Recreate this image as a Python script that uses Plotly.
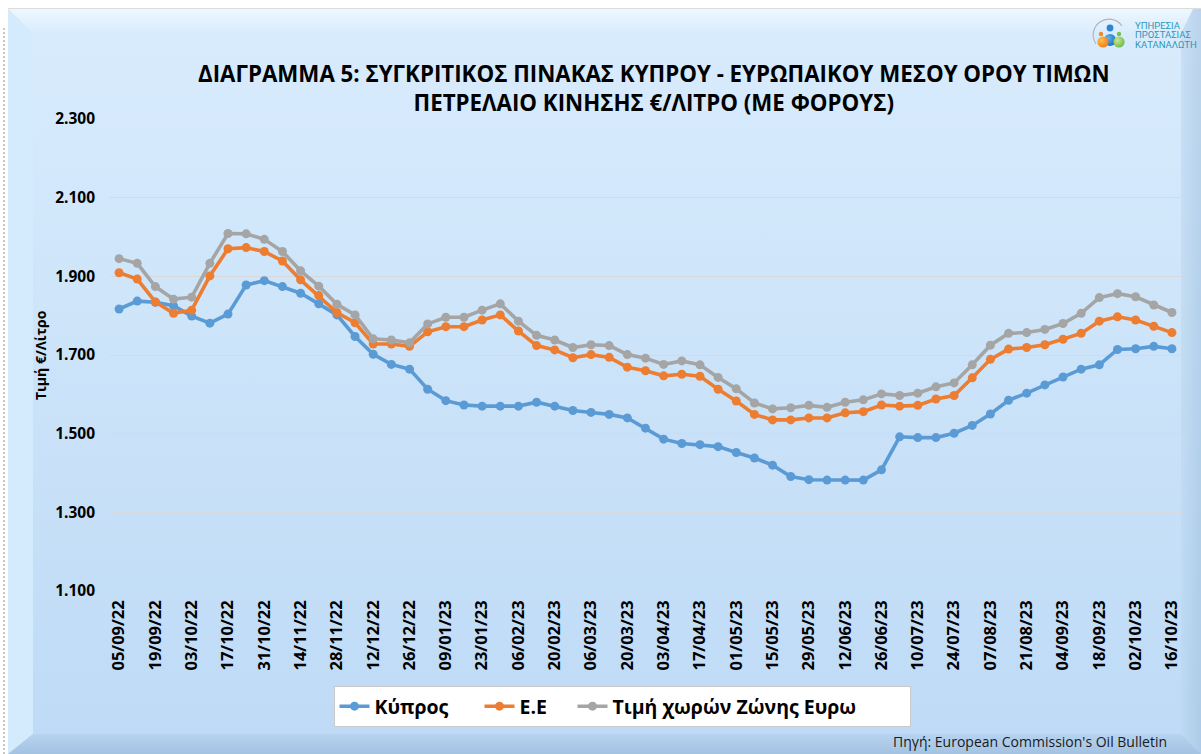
import base64
import plotly.graph_objects as go

# ---------------- data ----------------
dates = [
    "05/09/22", "12/09/22", "19/09/22", "26/09/22", "03/10/22", "10/10/22", "17/10/22", "24/10/22",
    "31/10/22", "07/11/22", "14/11/22", "21/11/22", "28/11/22", "05/12/22", "12/12/22", "19/12/22",
    "26/12/22", "02/01/23", "09/01/23", "16/01/23", "23/01/23", "30/01/23", "06/02/23", "13/02/23",
    "20/02/23", "27/02/23", "06/03/23", "13/03/23", "20/03/23", "27/03/23", "03/04/23", "10/04/23",
    "17/04/23", "24/04/23", "01/05/23", "08/05/23", "15/05/23", "22/05/23", "29/05/23", "05/06/23",
    "12/06/23", "19/06/23", "26/06/23", "03/07/23", "10/07/23", "17/07/23", "24/07/23", "31/07/23",
    "07/08/23", "14/08/23", "21/08/23", "28/08/23", "04/09/23", "11/09/23", "18/09/23", "25/09/23",
    "02/10/23", "09/10/23", "16/10/23",
]

tick_labels = [
    "05/09/22", "19/09/22", "03/10/22", "17/10/22", "31/10/22", "14/11/22", "28/11/22", "12/12/22",
    "26/12/22", "09/01/23", "23/01/23", "06/02/23", "20/02/23", "06/03/23", "20/03/23", "03/04/23",
    "17/04/23", "01/05/23", "15/05/23", "29/05/23", "12/06/23", "26/06/23", "10/07/23", "24/07/23",
    "07/08/23", "21/08/23", "04/09/23", "18/09/23", "02/10/23", "16/10/23",
]

cyprus = [
    1.817, 1.837, 1.834, 1.825, 1.799, 1.781, 1.804, 1.878, 1.889, 1.874,
    1.857, 1.830, 1.802, 1.747, 1.702, 1.676, 1.664, 1.613, 1.584, 1.573,
    1.570, 1.570, 1.570, 1.580, 1.570, 1.559, 1.554, 1.549, 1.540, 1.514,
    1.486, 1.475, 1.472, 1.467, 1.452, 1.438, 1.420, 1.391, 1.383, 1.382,
    1.382, 1.382, 1.408, 1.492, 1.490, 1.490, 1.501, 1.521, 1.550, 1.585,
    1.603, 1.624, 1.644, 1.664, 1.675, 1.714, 1.716, 1.722, 1.716,
]

eu = [
    1.909, 1.893, 1.835, 1.806, 1.814, 1.901, 1.970, 1.973, 1.963, 1.939,
    1.891, 1.851, 1.808, 1.782, 1.728, 1.728, 1.722, 1.759, 1.772, 1.772,
    1.789, 1.802, 1.761, 1.724, 1.713, 1.693, 1.701, 1.694, 1.669, 1.660,
    1.647, 1.651, 1.646, 1.613, 1.583, 1.549, 1.535, 1.535, 1.540, 1.540,
    1.553, 1.556, 1.573, 1.570, 1.572, 1.588, 1.597, 1.642, 1.689, 1.715,
    1.719, 1.726, 1.740, 1.755, 1.786, 1.797, 1.789, 1.773, 1.757,
]

eurozone = [
    1.945, 1.933, 1.874, 1.842, 1.847, 1.933, 2.009, 2.008, 1.994, 1.963,
    1.914, 1.875, 1.829, 1.802, 1.741, 1.738, 1.731, 1.779, 1.796, 1.796,
    1.814, 1.830, 1.786, 1.750, 1.738, 1.719, 1.726, 1.724, 1.701, 1.692,
    1.676, 1.685, 1.675, 1.643, 1.614, 1.578, 1.563, 1.566, 1.572, 1.567,
    1.580, 1.586, 1.601, 1.597, 1.603, 1.619, 1.629, 1.675, 1.725, 1.755,
    1.757, 1.765, 1.780, 1.806, 1.846, 1.856, 1.848, 1.827, 1.808,
]

series_names = ["Κύπρος", "Ε.Ε", "Τιμή χωρών Ζώνης Ευρω"]
series_colors = ["#5b9bd5", "#ed7d31", "#a5a5a5"]

title_text = ("ΔΙΑΓΡΑΜΜΑ 5: ΣΥΓΚΡΙΤΙΚΟΣ ΠΙΝΑΚΑΣ ΚΥΠΡΟΥ - ΕΥΡΩΠΑΙΚΟΥ ΜΕΣΟΥ ΟΡΟΥ ΤΙΜΩΝ"
              "<br>ΠΕΤΡΕΛΑΙΟ ΚΙΝΗΣΗΣ €/ΛΙΤΡΟ (ΜΕ ΦΟΡΟΥΣ)")
y_title = "Τιμή €/Λίτρο"
source_text = "Πηγή: European Commission's Oil Bulletin"
logo_lines = ["ΥΠΗΡΕΣΙΑ", "ΠΡΟΣΤΑΣΙΑΣ", "ΚΑΤΑΝΑΛΩΤΗ"]

# ---------------- geometry ----------------
W, H = 1201, 754
ML, MR, MT, MB = 110, 20, 119, 163
PW, PH = W - ML - MR, H - MT - MB
legend_entry_widths = [100, 48, 292]


def px_x(x):
    return (x - ML) / PW


def px_y(y):
    return (H - MB - y) / PH


FONT = "Open Sans"

# ---------------- decorative background (bevelled panel + logo graphic) ----------------
svg = f"""<svg xmlns='http://www.w3.org/2000/svg' width='{W}' height='{H}' viewBox='0 0 {W} {H}'>
<defs>
<linearGradient id='g' x1='0' y1='0' x2='0' y2='1'>
<stop offset='0' stop-color='#d9ecfd'/><stop offset='0.5' stop-color='#cbe3f9'/><stop offset='1' stop-color='#bedaf6'/>
</linearGradient>
<linearGradient id='gt' x1='0' y1='0' x2='0' y2='1'>
<stop offset='0' stop-color='#eef7ff'/><stop offset='1' stop-color='#d9ecfd'/>
</linearGradient>
<linearGradient id='gr' x1='0' y1='0' x2='1' y2='0'>
<stop offset='0' stop-color='#bcd7f0'/><stop offset='1' stop-color='#9fbfdd'/>
</linearGradient>
<linearGradient id='gb' x1='0' y1='0' x2='0' y2='1'>
<stop offset='0' stop-color='#b6d3ef'/><stop offset='1' stop-color='#a3c3e3'/>
</linearGradient>
<radialGradient id='o' cx='0.35' cy='0.35' r='0.7'><stop offset='0' stop-color='#ffc04a'/><stop offset='1' stop-color='#f07d1a'/></radialGradient>
<radialGradient id='b' cx='0.35' cy='0.35' r='0.7'><stop offset='0' stop-color='#5fb6ee'/><stop offset='1' stop-color='#1b6fc0'/></radialGradient>
<radialGradient id='gn' cx='0.35' cy='0.35' r='0.7'><stop offset='0' stop-color='#c8ea8a'/><stop offset='1' stop-color='#6ab63c'/></radialGradient>
</defs>
<rect x='0' y='0' width='{W}' height='{H}' fill='#ffffff'/>
<line x1='4' y1='28' x2='4' y2='{H}' stroke='#c8c8c8' stroke-width='2' stroke-dasharray='2,2'/>
<rect x='8' y='9' width='{W-8}' height='{H-9}' fill='url(#g)'/>
<line x1='8' y1='8.5' x2='{W}' y2='8.5' stroke='#dcdcdc' stroke-width='1'/>
<polygon points='8,9 {W-8},9 {W-20},33 33,33' fill='url(#gt)'/>
<polygon points='8,9 33,33 33,{H-20} 8,{H}' fill='#d4eafd'/>
<polygon points='{W-8},9 {W},9 {W},{H} {W-20},{H-20} {W-20},33' fill='url(#gr)' opacity='0.55'/>
<polygon points='8,{H} 33,{H-20} {W-20},{H-20} {W},{H}' fill='url(#gb)'/>
<path d='M 1096 44 A 15 15 0 1 1 1122 26' fill='none' stroke='#b5b5b5' stroke-width='1.2'/>
<circle cx='1101' cy='34' r='2.2' fill='#f08a24'/>
<circle cx='1110' cy='28' r='3.4' fill='#2a86d4'/>
<circle cx='1119' cy='34' r='2.2' fill='#7cc04a'/>
<circle cx='1110' cy='40' r='6' fill='url(#b)'/>
<circle cx='1103' cy='42' r='5.6' fill='url(#o)'/>
<circle cx='1119' cy='42' r='5.6' fill='url(#gn)' opacity='0.95'/>
</svg>"""
svg_uri = "data:image/svg+xml;base64," + base64.b64encode(svg.encode("utf-8")).decode("ascii")

# ---------------- figure ----------------
fig = go.Figure()
for name, vals, col, lw in zip(series_names, [cyprus, eu, eurozone], series_colors, legend_entry_widths):
    fig.add_trace(go.Scatter(
        x=dates, y=vals, name=name, mode="lines+markers",
        line=dict(color=col, width=3.6),
        marker=dict(color=col, size=9, line=dict(width=0)),
        legendwidth=lw,
    ))

fig.update_layout(
    width=W, height=H,
    margin=dict(l=ML, r=MR, t=MT, b=MB, autoexpand=False),
    paper_bgcolor="#ffffff",
    plot_bgcolor="rgba(0,0,0,0)",
    font=dict(family=FONT, color="#000000"),
    showlegend=True,
    legend=dict(
        orientation="h", x=px_x(622), xanchor="center", y=px_y(686), yanchor="top",
        bgcolor="#ffffff", bordercolor="#c9c9c9", borderwidth=1,
        font=dict(family=FONT, size=19.5, color="#000000", weight="bold"),
        itemwidth=30, tracegroupgap=0,
    ),
    images=[dict(
        source=svg_uri, xref="paper", yref="paper",
        x=px_x(0), y=px_y(0), sizex=W / PW, sizey=H / PH,
        xanchor="left", yanchor="top", sizing="stretch", layer="below",
    )],
)

fig.update_xaxes(
    type="category", categoryorder="array", categoryarray=dates,
    range=[-0.5, len(dates) - 0.5],
    tickmode="array", tickvals=tick_labels, ticktext=tick_labels,
    tickangle=-90, showgrid=False, zeroline=False, showline=False, ticks="",
    tickfont=dict(family=FONT, size=16.5, color="#000000", weight="bold"),
    ticklabelstandoff=5,
)
fig.update_yaxes(
    range=[1.1, 2.3], tick0=1.1, dtick=0.2, tickformat=".3f",
    showgrid=True, gridcolor="#d9d9d9", gridwidth=1,
    zeroline=False, showline=False, ticks="",
    tickfont=dict(family=FONT, size=15.5, color="#000000", weight="bold"),
    ticklabelstandoff=14,
)

annotations = [
    dict(text=title_text, xref="paper", yref="paper", x=px_x(654), y=px_y(88),
         xanchor="center", yanchor="middle", showarrow=False,
         font=dict(family=FONT, size=22.3, color="#000000", weight="bold")),
    dict(text=y_title, xref="paper", yref="paper", x=px_x(40), y=px_y(355),
         xanchor="center", yanchor="middle", showarrow=False, textangle=-90,
         font=dict(family=FONT, size=14, color="#000000", weight="bold")),
    dict(text=source_text, xref="paper", yref="paper", x=px_x(1169), y=px_y(741),
         xanchor="right", yanchor="middle", showarrow=False,
         font=dict(family=FONT, size=14, color="#1a1a1a")),
]
for i, line in enumerate(logo_lines):
    annotations.append(dict(
        text=line, xref="paper", yref="paper", x=px_x(1133), y=px_y(25 + 9.6 * i),
        xanchor="left", yanchor="middle", showarrow=False,
        font=dict(family="Roboto", size=9.5, color="#2b98b8"),
    ))
fig.update_layout(annotations=annotations)

fig.write_html(
    "out.html",
    config={"displayModeBar": False},
    post_script="document.body.style.margin='0';document.body.style.overflow='hidden';",
)
